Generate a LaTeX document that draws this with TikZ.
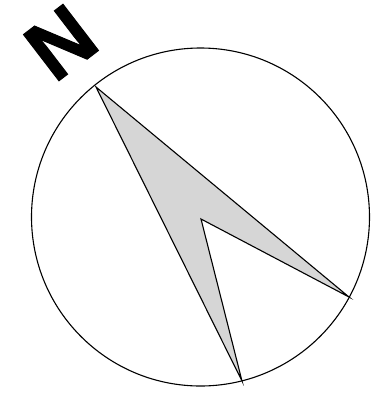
\documentclass[tikz,border=0pt]{standalone}
\usepackage{fontspec}
\setmainfont{Liberation Sans}
\newfontfamily\northfont[BoldFeatures={FakeBold=1.2}]{Liberation Sans}
\tikzset{
  outline/.style={draw=black,line width=1.1bp,line join=miter},
  needle/.style={outline,fill=black!16},
  northmark/.style={inner sep=0pt,outer sep=0pt,rotate=37.5,font=\northfont\bfseries\fontsize{85}{85}\selectfont}
}
\begin{document}
\begin{tikzpicture}[x=1bp,y=-1bp]
\useasboundingbox (0,0) rectangle (383,393);
\draw[outline] (200.5,217) circle[radius=169];
\draw[needle] (96,87) -- (349,297) -- (201,219) -- (242,381) -- cycle;
\node[northmark] (north) at (61,42.5) {N};
\end{tikzpicture}
\end{document}
